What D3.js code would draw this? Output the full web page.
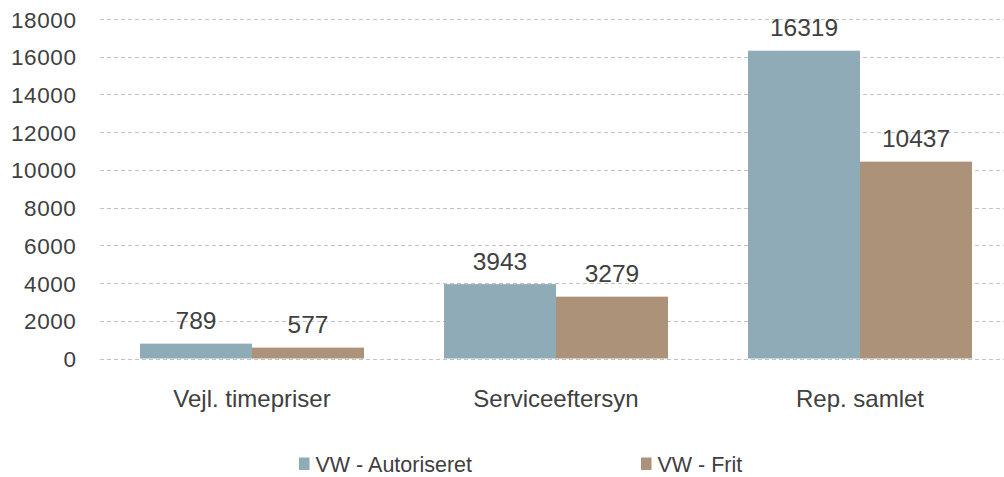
<!DOCTYPE html>
<html>
<head>
<meta charset="utf-8">
<script src="https://cdn.jsdelivr.net/npm/d3@7"></script>
<style>
  body { margin: 0; background: #fff; }
  text { font-family: "Liberation Sans", Arial, sans-serif; fill: #404040; }
</style>
</head>
<body>
<div id="chart"></div>
<script>
let width = 1004;
let height = 477;

let categories = ["Vejl. timepriser", "Serviceeftersyn", "Rep. samlet"];
let seriesNames = ["VW - Autoriseret", "VW - Frit"];
let autoriseret = [789, 3943, 16319];
let frit = [577, 3279, 10437];
let yTicks = [0, 2000, 4000, 6000, 8000, 10000, 12000, 14000, 16000, 18000];
let colors = ["#8eabb7", "#ad927a"];

let svg = d3.select("#chart")
    .append("svg")
    .attr("width", width)
    .attr("height", height);

let x = d3.scaleBand()
    .domain(categories)
    .range([100, 1012])
    .paddingInner(80 / 304)
    .paddingOuter(40 / 304);

let xs = d3.scaleBand()
    .domain(seriesNames)
    .range([0, x.bandwidth()]);

let y = d3.scaleLinear()
    .domain([0, 18000])
    .range([358.5, 19]);

// gridlines
svg.append("g")
    .attr("class", "grid")
    .selectAll("line")
    .data(yTicks)
    .enter()
    .append("line")
    .attr("x1", 100)
    .attr("x2", 1012)
    .attr("y1", d => Math.round(y(d)) + 0.5)
    .attr("y2", d => Math.round(y(d)) + 0.5)
    .style("stroke", "#c3c3c3")
    .style("stroke-width", 1.2)
    .style("stroke-dasharray", "4,3");

// y axis labels
let yAxis = svg.append("g")
    .attr("transform", "translate(76.5,0)")
    .call(d3.axisLeft(y).tickValues(yTicks).tickSize(0).tickPadding(0).tickFormat(d3.format("d")));
yAxis.select(".domain").remove();
yAxis.selectAll("text")
    .attr("dy", "0.36em")
    .style("font-size", "22.5px")
    .style("letter-spacing", "0.6px")
    .style("fill", "#404040")
    .style("font-family", "'Liberation Sans', Arial, sans-serif");

// x axis labels
let xAxis = svg.append("g")
    .attr("transform", "translate(0,0)")
    .call(d3.axisBottom(x).tickSize(0).tickPadding(0));
xAxis.select(".domain").remove();
xAxis.selectAll("text")
    .attr("y", 406.5)
    .attr("dy", 0)
    .style("font-size", "24px")
    .style("fill", "#404040")
    .style("font-family", "'Liberation Sans', Arial, sans-serif");

let rows = categories.map((c, i) => ({ cat: c, values: [autoriseret[i], frit[i]] }));

let groups = svg.selectAll("g.group")
    .data(rows)
    .enter()
    .append("g")
    .attr("class", "group")
    .attr("transform", d => "translate(" + x(d.cat) + ",0)");

groups.selectAll("rect")
    .data(d => d.values.map((v, j) => ({ name: seriesNames[j], value: v, j: j })))
    .enter()
    .append("rect")
    .attr("x", d => xs(d.name))
    .attr("y", d => y(d.value))
    .attr("width", xs.bandwidth())
    .attr("height", d => y(0) - y(d.value))
    .style("fill", d => colors[d.j]);

groups.selectAll("text.value")
    .data(d => d.values.map((v, j) => ({ name: seriesNames[j], value: v })))
    .enter()
    .append("text")
    .attr("class", "value")
    .attr("x", d => xs(d.name) + xs.bandwidth() / 2)
    .attr("y", d => y(d.value) - 14.5)
    .attr("text-anchor", "middle")
    .style("font-size", "24.5px")
    .text(d => d.value);

// legend
let legendX = [299, 641];
let legend = svg.selectAll("g.legend")
    .data(seriesNames)
    .enter()
    .append("g")
    .attr("class", "legend")
    .attr("transform", (d, i) => "translate(" + legendX[i] + ",0)");
legend.append("rect")
    .attr("x", 0)
    .attr("y", 457.5)
    .attr("width", 10.5)
    .attr("height", 12.5)
    .style("fill", (d, i) => colors[i]);
legend.append("text")
    .attr("x", 16.5)
    .attr("y", 471.5)
    .style("font-size", "21.5px")
    .text(d => d);
</script>
</body>
</html>
